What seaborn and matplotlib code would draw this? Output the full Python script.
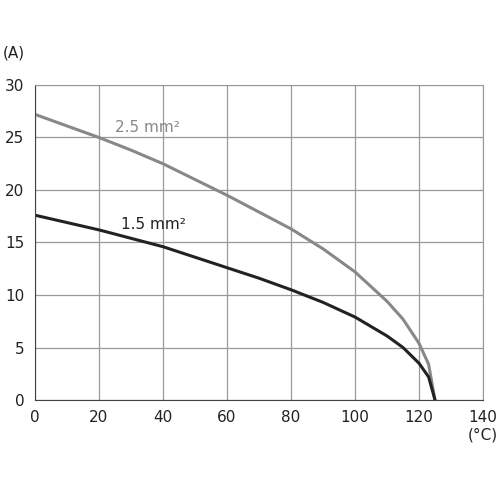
import matplotlib
matplotlib.use("Agg")
import matplotlib.pyplot as plt
import seaborn as sns
import pandas as pd

temp = [0, 10, 20, 30, 40, 50, 60, 70, 80, 90, 100, 110, 115, 120, 123, 125]
cur_25 = [27.2, 26.1, 25.0, 23.8, 22.5, 21.0, 19.5, 17.9, 16.3, 14.4, 12.2, 9.4, 7.7, 5.4, 3.4, 0.0]
cur_15 = [17.6, 16.9, 16.2, 15.4, 14.6, 13.6, 12.6, 11.6, 10.5, 9.3, 7.9, 6.1, 5.0, 3.5, 2.2, 0.0]
xticks = [0, 20, 40, 60, 80, 100, 120, 140]
yticks = [0, 5, 10, 15, 20, 25, 30]

sns.set_style("white")
plt.rcParams['font.family'] = ['DejaVu Sans']
fig = plt.figure(figsize=(5, 5), dpi=100)
ax = fig.add_axes([0.07, 0.2, 0.896, 0.63])

df = pd.DataFrame({"t": temp, "a": cur_25, "b": cur_15})
sns.lineplot(data=df, x="t", y="a", ax=ax, color="#888888", lw=2.2)
sns.lineplot(data=df, x="t", y="b", ax=ax, color="#222222", lw=2.2)

ax.set_xlim(0, 140); ax.set_ylim(0, 30)
ax.set_xticks(xticks); ax.set_yticks(yticks)
ax.set_xticks(range(10, 140, 20), minor=True)
ax.set_yticks([2.5 + 5 * i for i in range(6)], minor=True)
ax.grid(True, which="major", color="#999999", lw=0.9)
for s in ax.spines.values():
    s.set_color("#999999")
ax.spines['left'].set_color("#444444"); ax.spines['bottom'].set_color("#444444")
ax.tick_params(which="both", direction="out", length=4, colors="#444444", labelsize=11, labelcolor="#222222")
ax.tick_params(which="minor", length=3)
ax.set_xlabel(""); ax.set_ylabel("")
ax.text(25, 25.5, "2.5 mm²", color="#888888", fontsize=11)
ax.text(27, 16.3, "1.5 mm²", color="#222222", fontsize=11)
fig.text(0.005, 0.885, "(A)", fontsize=11, color="#222222")
fig.text(0.935, 0.12, "(°C)", fontsize=11, color="#222222")
fig.savefig("out.png", dpi=100)
